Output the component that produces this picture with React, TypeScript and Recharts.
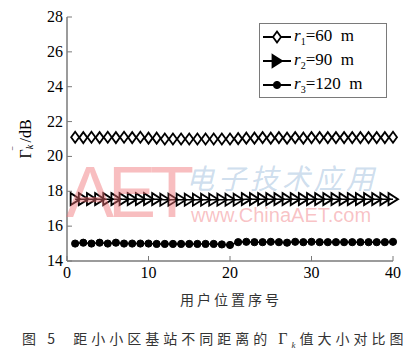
import React from 'react';
import { LineChart, Line, XAxis, YAxis, Legend, Label } from 'recharts';

// user position index (x) and mean SINR per distance (dB)
const userIndex = [
  1, 2, 3, 4, 5, 6, 7, 8, 9, 10, 11, 12, 13, 14, 15, 16, 17, 18, 19, 20,
  21, 22, 23, 24, 25, 26, 27, 28, 29, 30, 31, 32, 33, 34, 35, 36, 37, 38, 39, 40,
];
const gammaR60 = [
  21.1, 21.08, 21.1, 21.08, 21.1, 21.08, 21.1, 21.08, 21.1, 21.05,
  21.05, 21.0, 21.0, 21.0, 21.0, 21.0, 21.0, 21.0, 21.0, 21.0,
  21.02, 21.05, 21.05, 21.08, 21.05, 21.08, 21.05, 21.08, 21.05, 21.08,
  21.08, 21.08, 21.08, 21.08, 21.08, 21.08, 21.08, 21.08, 21.08, 21.1,
];
const gammaR90 = [
  17.55, 17.55, 17.55, 17.55, 17.55, 17.55, 17.55, 17.55, 17.55, 17.55,
  17.55, 17.52, 17.52, 17.52, 17.52, 17.52, 17.52, 17.52, 17.52, 17.52,
  17.52, 17.55, 17.55, 17.55, 17.55, 17.55, 17.55, 17.55, 17.55, 17.55,
  17.55, 17.55, 17.55, 17.55, 17.55, 17.55, 17.55, 17.55, 17.55, 17.55,
];
const gammaR120 = [
  15.0, 15.05, 15.0, 15.05, 15.0, 15.05, 15.0, 15.0, 15.0, 15.0,
  14.98, 14.98, 14.98, 14.98, 14.98, 14.98, 14.98, 14.98, 14.95, 14.92,
  15.08, 15.1, 15.08, 15.08, 15.1, 15.08, 15.05, 15.1, 15.08, 15.1,
  15.08, 15.08, 15.08, 15.08, 15.08, 15.08, 15.08, 15.08, 15.08, 15.1,
];
const radii = [60, 90, 120];
const xTicks = [0, 10, 20, 30, 40];
const yTicks = [14, 16, 18, 20, 22, 24, 26, 28];

const data = userIndex.map((u, i) => ({
  u,
  r60: gammaR60[i],
  r90: gammaR90[i],
  r120: gammaR120[i],
}));

const serif = "'Liberation Serif', 'Times New Roman', serif";
const cjk = "'Noto Sans CJK SC', sans-serif";
const frame = '#7a7a7a';

const Diamond = ({ cx, cy }: any) => (
  <path
    d={`M${cx},${cy - 5.5}L${cx + 4},${cy}L${cx},${cy + 5.5}L${cx - 4},${cy}Z`}
    fill="#fff"
    stroke="#000"
    strokeWidth={1.8}
  />
);

const Tri = ({ cx, cy, legend }: any) => (
  <path
    d={`M${cx - 4.5},${cy - 6}L${cx + 5},${cy}L${cx - 4.5},${cy + 6}Z`}
    fill={legend ? '#000' : 'none'}
    stroke="#000"
    strokeWidth={1.8}
  />
);

const Blob = ({ cx, cy }: any) => <circle cx={cx} cy={cy} r={3.6} fill="#000" stroke="#000" strokeWidth={1} />;

const markers = [Diamond, Tri, Blob];

const LegendBox = () => (
  <div
    style={{
      boxSizing: 'border-box',
      width: 128,
      height: 75,
      border: `1px solid ${frame}`,
      background: '#fff',
      padding: '1px 0',
      fontFamily: serif,
      fontSize: 17,
      color: '#000',
    }}
  >
    {radii.map((r, i) => {
      const M = markers[i];
      return (
        <div key={r} style={{ display: 'flex', alignItems: 'center', height: 24 }}>
          <svg width={34} height={16} style={{ flex: 'none' }}>
            <line x1={3} y1={8} x2={31} y2={8} stroke="#000" strokeWidth={2} />
            <M cx={17} cy={8} legend />
          </svg>
          <span style={{ whiteSpace: 'nowrap', fontFamily: serif }}>
            <i>r</i>
            <sub style={{ fontSize: 10 }}>{i + 1}</sub>={r}&nbsp; m
          </span>
        </div>
      );
    })}
  </div>
);

const YLabel = ({ viewBox }: any) => {
  const x = viewBox.x - 2;
  const y = viewBox.y + viewBox.height / 2;
  return (
    <text
      x={x}
      y={y}
      transform={`rotate(-90 ${x} ${y})`}
      textAnchor="middle"
      dominantBaseline="central"
      style={{ fontFamily: serif, fontSize: 16 }}
      fill="#000"
    >
      <tspan>Γ</tspan>
      <tspan fontSize={10} fontStyle="italic" dy={4}>k</tspan>
      <tspan fontSize={10} dx={-5} dy={-12}>‾</tspan>
      <tspan dy={8}>{'\u00a0/dB'}</tspan>
    </text>
  );
};

const XLabel = ({ viewBox }: any) => (
  <text
    x={viewBox.x + viewBox.width / 2 + 1}
    y={viewBox.y + viewBox.height + 14}
    textAnchor="middle"
    style={{ fontFamily: cjk, fontSize: 14, letterSpacing: 3 }}
    fill="#333"
  >
    用户位置序号
  </text>
);

const dotOf = (M: any) => (p: any) => <M key={p.index} cx={p.cx} cy={p.cy} />;

const TickText = ({ x, y, payload, textAnchor, verticalAnchor }: any) => (
  <text
    x={x}
    y={y}
    dy={verticalAnchor === 'start' ? 11 : 5}
    textAnchor={textAnchor}
    style={{ fontFamily: serif, fontSize: 16 }}
    fill="#000"
  >
    {payload.value}
  </text>
);

export default function App() {
  return (
    <div style={{ position: 'absolute', left: 0, top: 0, width: 419, height: 356, background: '#fff' }}>
      <LineChart width={419} height={356} data={data} margin={{ top: 17, right: 26, bottom: 65, left: 27 }}>
        <XAxis
          dataKey="u"
          type="number"
          domain={[0, 40]}
          ticks={xTicks}
          height={30}
          tickSize={-5}
          tickMargin={11}
          axisLine={{ stroke: frame, strokeWidth: 1.5 }}
          tickLine={{ stroke: frame }}
          tick={<TickText />}
        >
          <Label content={XLabel} />
        </XAxis>
        <XAxis
          xAxisId="top"
          orientation="top"
          dataKey="u"
          type="number"
          domain={[0, 40]}
          ticks={xTicks}
          height={0}
          tickSize={-5}
          tick={false}
          axisLine={{ stroke: frame, strokeWidth: 1 }}
          tickLine={{ stroke: frame }}
        />
        <YAxis
          type="number"
          domain={[14, 28]}
          ticks={yTicks}
          width={40}
          tickSize={-5}
          tickMargin={9}
          axisLine={{ stroke: frame, strokeWidth: 1.5 }}
          tickLine={{ stroke: frame }}
          tick={<TickText />}
        >
          <Label content={YLabel} />
        </YAxis>
        <YAxis
          yAxisId="right"
          orientation="right"
          type="number"
          domain={[14, 28]}
          ticks={yTicks}
          width={0}
          tickSize={-5}
          tick={false}
          axisLine={{ stroke: frame, strokeWidth: 1 }}
          tickLine={{ stroke: frame }}
        />
        <Legend
          layout="horizontal"
          verticalAlign="middle"
          align="center"
          content={<LegendBox />}
          wrapperStyle={{ position: 'absolute', left: 259, top: 23, width: 128, height: 75 }}
        />
        <Line dataKey="r60" stroke="#000" strokeWidth={1.5} dot={dotOf(Diamond)} isAnimationActive={false} />
        <Line dataKey="r90" stroke="#000" strokeWidth={1.5} dot={dotOf(Tri)} isAnimationActive={false} />
        <Line dataKey="r120" stroke="#000" strokeWidth={1.5} dot={dotOf(Blob)} isAnimationActive={false} />
      </LineChart>

      {/* site watermark laid over the plot */}
      <div style={{ position: 'absolute', left: 0, top: 0, width: 419, height: 356, pointerEvents: 'none' }}>
        <div
          style={{
            position: 'absolute',
            left: 66,
            top: 163,
            fontFamily: "'Liberation Sans', sans-serif",
            fontSize: 72,
            lineHeight: '58px',
            height: 58,
            letterSpacing: -6,
            color: 'rgba(240,110,115,0.45)',
          }}
        >
          AET
        </div>
        <div
          style={{
            position: 'absolute',
            left: 186,
            top: 160,
            fontFamily: cjk,
            fontSize: 28,
            lineHeight: '34px',
            letterSpacing: 4,
            fontStyle: 'italic',
            color: 'rgba(130,170,210,0.4)',
          }}
        >
          电子技术应用
        </div>
        <div
          style={{
            position: 'absolute',
            left: 191,
            top: 204,
            fontFamily: "'Liberation Sans', sans-serif",
            fontSize: 20,
            lineHeight: '22px',
            color: 'rgba(240,120,125,0.45)',
          }}
        >
          www.ChinaAET.com
        </div>
      </div>

      <div
        style={{
          position: 'absolute',
          left: 22,
          top: 327,
          fontFamily: cjk,
          fontSize: 14,
          lineHeight: '22px',
          letterSpacing: 4,
          color: '#333',
          whiteSpace: 'nowrap',
        }}
      >
        图 5&nbsp; 距小小区基站不同距离的 <span style={{ fontFamily: serif, fontSize: 16 }}>Γ</span>
        <sub style={{ fontFamily: serif, fontStyle: 'italic', fontSize: 9 }}>k</sub>值大小对比图
      </div>
    </div>
  );
}
